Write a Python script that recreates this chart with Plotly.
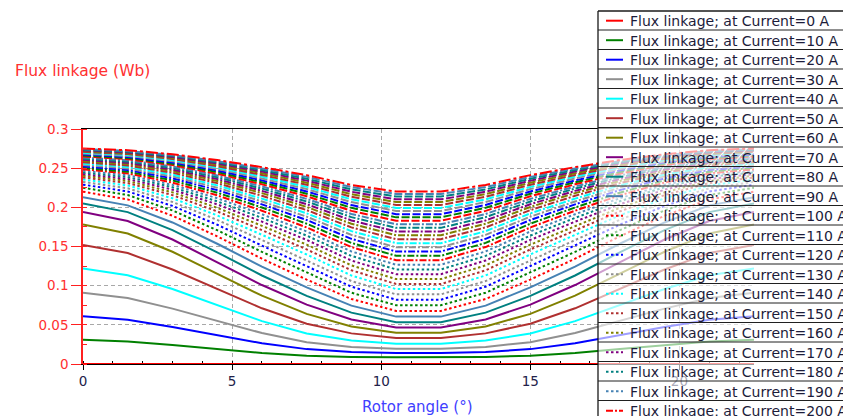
import plotly.graph_objects as go

# ---------------- data ----------------
rotor_angle_deg = [0, 1.5, 3, 4.5, 6, 7.5, 9, 10.5, 12, 13.5, 15, 16.5, 18, 19.5, 21, 22.5]

current_a = [0, 10, 20, 30, 40, 50, 60, 70, 80, 90,
             100, 110, 120, 130, 140, 150, 160, 170, 180, 190,
             200, 210, 220, 230, 240, 250, 260, 270, 280, 290,
             300, 310, 320, 330, 340, 350, 360, 370, 380, 390, 400]

flux_000A = [0, 0, 0, 0, 0, 0, 0, 0, 0, 0, 0, 0, 0, 0, 0, 0]
flux_010A = [.0310, .0288, .0243, .0191, .0141, .0105, .0090, .0085, .0085, .0090, .0105, .0141, .0191, .0243, .0288, .0310]
flux_020A = [.0610, .0564, .0473, .0367, .0265, .0190, .0153, .0141, .0141, .0153, .0190, .0265, .0367, .0473, .0564, .0610]
flux_030A = [.0910, .0843, .0707, .0549, .0395, .0279, .0218, .0194, .0194, .0218, .0279, .0395, .0549, .0707, .0843, .0910]
flux_040A = [.1220, .1133, .0957, .0750, .0547, .0390, .0299, .0260, .0260, .0299, .0390, .0547, .0750, .0957, .1133, .1220]
flux_050A = [.1520, .1416, .1206, .0958, .0711, .0514, .0391, .0333, .0333, .0391, .0514, .0711, .0958, .1206, .1416, .1520]
flux_060A = [.1780, .1666, .1433, .1154, .0872, .0640, .0480, .0398, .0398, .0480, .0640, .0872, .1154, .1433, .1666, .1780]
flux_070A = [.1940, .1825, .1589, .1302, .1008, .0758, .0569, .0465, .0465, .0569, .0758, .1008, .1302, .1589, .1825, .1940]
flux_080A = [.2050, .1939, .1709, .1426, .1130, .0870, .0656, .0533, .0533, .0656, .0870, .1130, .1426, .1709, .1939, .2050]
flux_090A = [.2130, .2025, .1807, .1535, .1244, .0979, .0745, .0605, .0605, .0745, .0979, .1244, .1535, .1807, .2025, .2130]
flux_100A = [.2200, .2101, .1893, .1630, .1344, .1078, .0830, .0678, .0678, .0830, .1078, .1344, .1630, .1893, .2101, .2200]
flux_110A = [.2250, .2157, .1960, .1708, .1431, .1166, .0910, .0750, .0750, .0910, .1166, .1431, .1708, .1960, .2157, .2250]
flux_120A = [.2290, .2203, .2018, .1778, .1511, .1250, .0987, .0821, .0821, .0987, .1250, .1511, .1778, .2018, .2203, .2290]
flux_130A = [.2325, .2243, .2069, .1840, .1582, .1325, .1059, .0889, .0889, .1059, .1325, .1582, .1840, .2069, .2243, .2325]
flux_140A = [.2355, .2279, .2115, .1897, .1649, .1398, .1130, .0956, .0956, .1130, .1398, .1649, .1897, .2115, .2279, .2355]
flux_150A = [.2382, .2310, .2156, .1948, .1709, .1463, .1196, .1021, .1021, .1196, .1463, .1709, .1948, .2156, .2310, .2382]
flux_160A = [.2404, .2337, .2191, .1994, .1764, .1524, .1259, .1084, .1084, .1259, .1524, .1764, .1994, .2191, .2337, .2404]
flux_170A = [.2425, .2362, .2225, .2038, .1817, .1584, .1321, .1146, .1146, .1321, .1584, .1817, .2038, .2225, .2362, .2425]
flux_180A = [.2446, .2387, .2257, .2077, .1865, .1639, .1380, .1207, .1207, .1380, .1639, .1865, .2077, .2257, .2387, .2446]
flux_190A = [.2466, .2410, .2287, .2116, .1912, .1692, .1437, .1267, .1267, .1437, .1692, .1912, .2116, .2287, .2410, .2466]
flux_200A = [.2486, .2433, .2316, .2153, .1957, .1743, .1493, .1324, .1324, .1493, .1743, .1957, .2153, .2316, .2433, .2486]
flux_210A = [.2505, .2455, .2344, .2187, .1998, .1791, .1546, .1381, .1381, .1546, .1791, .1998, .2187, .2344, .2455, .2505]
flux_220A = [.2523, .2476, .2370, .2220, .2038, .1838, .1598, .1436, .1436, .1598, .1838, .2038, .2220, .2370, .2476, .2523]
flux_230A = [.2541, .2496, .2395, .2251, .2075, .1881, .1648, .1490, .1490, .1648, .1881, .2075, .2251, .2395, .2496, .2541]
flux_240A = [.2558, .2515, .2418, .2280, .2111, .1923, .1696, .1542, .1542, .1696, .1923, .2111, .2280, .2418, .2515, .2558]
flux_250A = [.2575, .2534, .2442, .2309, .2147, .1965, .1744, .1593, .1593, .1744, .1965, .2147, .2309, .2442, .2534, .2575]
flux_260A = [.2591, .2552, .2464, .2337, .2181, .2005, .1790, .1643, .1643, .1790, .2005, .2181, .2337, .2464, .2552, .2591]
flux_270A = [.2606, .2568, .2483, .2361, .2210, .2040, .1833, .1691, .1691, .1833, .2040, .2210, .2361, .2483, .2568, .2606]
flux_280A = [.2621, .2585, .2503, .2384, .2239, .2075, .1875, .1738, .1738, .1875, .2075, .2239, .2384, .2503, .2585, .2621]
flux_290A = [.2635, .2600, .2521, .2407, .2266, .2108, .1915, .1783, .1783, .1915, .2108, .2266, .2407, .2521, .2600, .2635]
flux_300A = [.2649, .2615, .2539, .2429, .2294, .2141, .1955, .1828, .1828, .1955, .2141, .2294, .2429, .2539, .2615, .2649]
flux_310A = [.2662, .2629, .2556, .2450, .2320, .2173, .1994, .1872, .1872, .1994, .2173, .2320, .2450, .2556, .2629, .2662]
flux_320A = [.2674, .2643, .2572, .2470, .2344, .2203, .2030, .1913, .1913, .2030, .2203, .2344, .2470, .2572, .2643, .2674]
flux_330A = [.2686, .2656, .2588, .2490, .2369, .2233, .2067, .1954, .1954, .2067, .2233, .2369, .2490, .2588, .2656, .2686]
flux_340A = [.2697, .2668, .2603, .2508, .2392, .2261, .2102, .1993, .1993, .2102, .2261, .2392, .2508, .2603, .2668, .2697]
flux_350A = [.2708, .2680, .2617, .2526, .2414, .2289, .2135, .2030, .2030, .2135, .2289, .2414, .2526, .2617, .2680, .2708]
flux_360A = [.2718, .2691, .2631, .2544, .2436, .2315, .2168, .2067, .2067, .2168, .2315, .2436, .2544, .2631, .2691, .2718]
flux_370A = [.2727, .2701, .2643, .2560, .2457, .2341, .2199, .2102, .2102, .2199, .2341, .2457, .2560, .2643, .2701, .2727]
flux_380A = [.2736, .2711, .2656, .2575, .2476, .2365, .2229, .2137, .2137, .2229, .2365, .2476, .2575, .2656, .2711, .2736]
flux_390A = [.2744, .2720, .2667, .2590, .2495, .2389, .2259, .2170, .2170, .2259, .2389, .2495, .2590, .2667, .2720, .2744]
flux_400A = [.2752, .2729, .2678, .2604, .2513, .2411, .2286, .2201, .2201, .2286, .2411, .2513, .2604, .2678, .2729, .2752]

flux_series = [flux_000A, flux_010A, flux_020A, flux_030A, flux_040A, flux_050A, flux_060A,
               flux_070A, flux_080A, flux_090A, flux_100A, flux_110A, flux_120A, flux_130A,
               flux_140A, flux_150A, flux_160A, flux_170A, flux_180A, flux_190A, flux_200A,
               flux_210A, flux_220A, flux_230A, flux_240A, flux_250A, flux_260A, flux_270A,
               flux_280A, flux_290A, flux_300A, flux_310A, flux_320A, flux_330A, flux_340A,
               flux_350A, flux_360A, flux_370A, flux_380A, flux_390A, flux_400A]

x_tick_vals = [0, 5, 10, 15, 20]
y_tick_vals = [0, 0.05, 0.1, 0.15, 0.2, 0.25, 0.3]
y_tick_text = ["0", "0.05", "0.1", "0.15", "0.2", "0.25", "0.3"]

x_title = "Rotor angle (°)"
y_title = "Flux linkage (Wb)"
series_label = "Flux linkage; at Current={} A"

# ---------------- styles ----------------
line_colors = ["#ff0000", "#008000", "#0000ff", "#909090", "#00ffff",
               "#b03030", "#808000", "#800080", "#008080", "#4682b4"]
dash_styles = ["solid", "2.5px,2.5px", "7px,2px,2px,2px", "8px,2.5px", "12px,3px,3px,3px"]

# the page places the figure 8 px from the top-left corner of the window
OFF = 8
W, H = 851, 416
# plot area in window pixels: x 83..754, y 129..364
PX0, PX1, PY0, PY1 = 83, 754, 129, 364
ML, MR = PX0 - OFF, W - (PX1 - OFF)
MT, MB = PY0 - OFF, H - (PY1 - OFF)
FONT = "DejaVu Sans"


def px_x(px):
    return (px - PX0) / (PX1 - PX0)


def px_y(py):
    return (PY1 - py) / (PY1 - PY0)


fig = go.Figure()
for i, (amp, flux) in enumerate(zip(current_a, flux_series)):
    fig.add_trace(go.Scatter(
        x=rotor_angle_deg, y=flux, mode="lines",
        name=series_label.format(amp),
        line=dict(color=line_colors[i % 10], dash=dash_styles[i // 10], width=2),
        showlegend=False,
    ))

fig.update_layout(
    width=W, height=H,
    margin=dict(l=ML, r=MR, t=MT, b=MB, autoexpand=False),
    paper_bgcolor="white", plot_bgcolor="white",
    showlegend=False,
    font=dict(family=FONT),
)

fig.update_xaxes(
    range=[0, 22.5], tickmode="array", tickvals=x_tick_vals,
    ticks="outside", ticklen=5, tickcolor="black",
    showline=True, linecolor="black", linewidth=1, mirror=True,
    showgrid=True, gridcolor="#a8a8a8", griddash="4px,3px", gridwidth=1,
    zeroline=False, layer="below traces",
    tickfont=dict(family=FONT, size=13.5, color="#22224a"),
    minor=dict(dtick=1, tick0=0, ticks="inside", ticklen=3, tickcolor="black", showgrid=False),
)
fig.update_yaxes(
    range=[0, 0.3], tickmode="array", tickvals=y_tick_vals, ticktext=y_tick_text,
    ticks="outside", ticklen=10, tickcolor="#ff2020",
    showline=True, linecolor="#ff2020", linewidth=1.5,
    showgrid=True, gridcolor="#a8a8a8", griddash="4px,3px", gridwidth=1,
    zeroline=False,
    tickfont=dict(family=FONT, size=13.5, color="#ff3030"),
    minor=dict(dtick=0.025, tick0=0, ticks="inside", ticklen=4, tickcolor="#ff2020", showgrid=False),
)

# axis titles
fig.add_annotation(xref="paper", yref="paper", x=px_x(82), y=px_y(71),
                   text=y_title, showarrow=False, xanchor="center", yanchor="middle",
                   font=dict(family=FONT, size=15.5, color="#ff3030"))
fig.add_annotation(xref="paper", yref="paper", x=px_x(417), y=px_y(407),
                   text=x_title, showarrow=False, xanchor="center", yanchor="middle",
                   font=dict(family=FONT, size=15, color="#4040ff"))

# ---------------- legend box (semi-transparent, table like) ----------------
LX, LTOP, ROW = 598, 11, 19.5
shapes = [
    dict(type="rect", xref="paper", yref="paper",
         x0=px_x(LX), x1=px_x(1200), y0=px_y(LTOP), y1=px_y(1400),
         fillcolor="rgba(255,255,255,0.62)", line=dict(width=0), layer="above"),
    dict(type="line", xref="paper", yref="paper",
         x0=px_x(LX), x1=px_x(1200), y0=px_y(LTOP), y1=px_y(LTOP),
         line=dict(color="#1a1a1a", width=1.3), layer="above"),
    dict(type="line", xref="paper", yref="paper",
         x0=px_x(LX), x1=px_x(LX), y0=px_y(LTOP), y1=px_y(1400),
         line=dict(color="#1a1a1a", width=1.3), layer="above"),
]
for k, amp in enumerate(current_a):
    cy = 20.7 + ROW * k
    dy = 30 + ROW * k
    shapes.append(dict(type="line", xref="paper", yref="paper",
                       x0=px_x(LX), x1=px_x(1200), y0=px_y(dy), y1=px_y(dy),
                       line=dict(color="#202020", width=1), layer="above"))
    shapes.append(dict(type="line", xref="paper", yref="paper",
                       x0=px_x(606), x1=px_x(623), y0=px_y(cy), y1=px_y(cy),
                       line=dict(color=line_colors[k % 10], dash=dash_styles[k // 10], width=2),
                       layer="above"))
    fig.add_annotation(xref="paper", yref="paper", x=px_x(628), y=px_y(cy + 0.5),
                       text=series_label.format(amp), showarrow=False,
                       xanchor="left", yanchor="middle",
                       font=dict(family=FONT, size=14, color="#1c1c3a"))
fig.update_layout(shapes=shapes)

fig.write_html("out.html")
